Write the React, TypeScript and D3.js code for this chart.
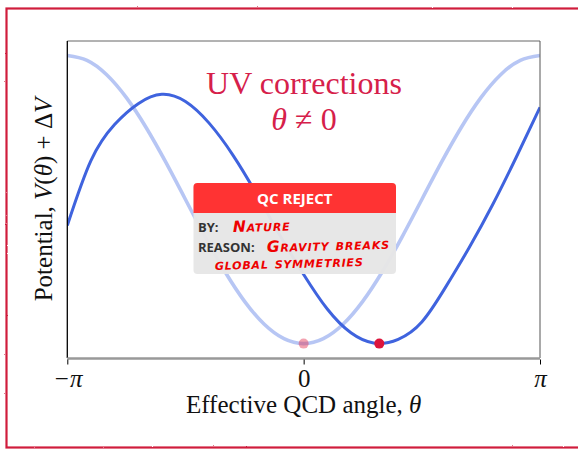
import { useEffect, useRef } from 'react'
import * as d3 from 'd3'

// theta given in units of pi
const lightTheta = [-1, -11 / 12, -10 / 12, -9 / 12, -8 / 12, -7 / 12, -6 / 12, -5 / 12, -4 / 12, -3 / 12, -2 / 12, -1 / 12, 0,
  1 / 12, 2 / 12, 3 / 12, 4 / 12, 5 / 12, 6 / 12, 7 / 12, 8 / 12, 9 / 12, 10 / 12, 11 / 12, 1]
const lightValues = [2.0, 1.966, 1.866, 1.707, 1.5, 1.259, 1.0, 0.741, 0.5, 0.293, 0.134, 0.034, 0,
  0.034, 0.134, 0.293, 0.5, 0.741, 1.0, 1.259, 1.5, 1.707, 1.866, 1.966, 2.0]

const darkTheta = [-1.0, -0.9, -0.8, -0.7, -0.6, -0.5, -0.4, -0.3, -0.2, -0.1, 0.0,
  0.1, 0.2, 0.3, 0.4, 0.5, 0.6, 0.7, 0.8, 0.9, 1.0]
const darkValues = [0.82, 1.27, 1.52, 1.665, 1.73, 1.68, 1.53, 1.31, 1.04, 0.75, 0.48,
  0.24, 0.075, 0.003, 0.03, 0.15, 0.39, 0.665, 0.965, 1.295, 1.64]

const oldMin = { theta: 0, value: 0 }
const newMin = { theta: 0.32, value: 0 }

const tickValues = [-1, 0, 1]
const tickLabels = ['−π', '0', 'π']

export default function App() {
  const svgRef = useRef<SVGSVGElement>(null)

  useEffect(() => {
    document.body.style.margin = '0'
    if (!svgRef.current) return
    const svg = d3.select(svgRef.current)
    svg.selectAll('*').remove()

    const left = 67.3
    const right = 540
    const top = 41
    const bottom = 358

    const x = d3.scaleLinear().domain([-Math.PI, Math.PI]).range([left, right])
    const y = d3.scaleLinear().domain([-0.1, 2.1]).range([bottom, top])
    const serif = '"Liberation Serif", "DejaVu Serif", serif'

    const defs = svg.append('defs')
    const rough = defs.append('filter').attr('id', 'rough')
      .attr('x', '-5%').attr('y', '-5%').attr('width', '110%').attr('height', '110%')
    rough.append('feTurbulence').attr('type', 'fractalNoise').attr('baseFrequency', 0.9)
      .attr('numOctaves', 2).attr('result', 'noise')
    rough.append('feDisplacementMap').attr('in', 'SourceGraphic').attr('in2', 'noise').attr('scale', 1.6)
    defs.append('clipPath').attr('id', 'plotclip').append('rect')
      .attr('x', left).attr('y', top).attr('width', right - left).attr('height', bottom - top)

    // rough red frame
    svg.append('rect')
      .attr('x', 6.5).attr('y', 8.5).attr('width', 600).attr('height', 439)
      .attr('fill', 'none').attr('stroke', '#d01c3c').attr('stroke-width', 2.2)
      .attr('filter', 'url(#rough)')

    const line = d3.line<[number, number]>()
      .x((d) => x(d[0] * Math.PI))
      .y((d) => y(d[1]))
      .curve(d3.curveNatural)

    const plot = svg.append('g').attr('clip-path', 'url(#plotclip)')
    plot.append('path')
      .datum(lightTheta.map((t, i) => [t, lightValues[i]] as [number, number]))
      .attr('d', line).attr('fill', 'none')
      .attr('stroke', '#4169e1').attr('stroke-opacity', 0.38).attr('stroke-width', 3.6)
    plot.append('path')
      .datum(darkTheta.map((t, i) => [t, darkValues[i]] as [number, number]))
      .attr('d', line).attr('fill', 'none')
      .attr('stroke', '#3f63de').attr('stroke-width', 3)

    svg.append('circle').attr('cx', x(oldMin.theta * Math.PI)).attr('cy', y(oldMin.value)).attr('r', 5)
      .attr('fill', '#e5314f').attr('fill-opacity', 0.45)
    svg.append('circle').attr('cx', x(newMin.theta * Math.PI)).attr('cy', y(newMin.value)).attr('r', 5)
      .attr('fill', '#dc143c')

    // spines
    svg.append('line').attr('x1', left).attr('x2', right).attr('y1', top).attr('y2', top)
      .attr('stroke', '#666').attr('stroke-width', 1)
    svg.append('line').attr('x1', right).attr('x2', right).attr('y1', top).attr('y2', bottom)
      .attr('stroke', '#555').attr('stroke-width', 1)
    svg.append('line').attr('x1', left).attr('x2', left).attr('y1', top).attr('y2', bottom)
      .attr('stroke', '#000').attr('stroke-width', 1.3)
    svg.append('line').attr('x1', left).attr('x2', right).attr('y1', bottom + 0.5).attr('y2', bottom + 0.5)
      .attr('stroke', '#999').attr('stroke-width', 2.5)

    const xAxis = svg.append('g').attr('transform', `translate(0,${bottom + 1.5})`)
      .call(d3.axisBottom(x).tickValues(tickValues.map((t) => t * Math.PI))
        .tickFormat((_, i) => tickLabels[i]).tickSize(5).tickPadding(5))
    xAxis.select('.domain').remove()
    xAxis.selectAll('line').attr('stroke', '#000')
    xAxis.selectAll('text').attr('font-family', serif).attr('font-size', 25)
      .attr('fill', '#111').attr('font-style', (_, i) => (i === 1 ? 'normal' : 'italic'))

    svg.append('text').attr('x', (left + right) / 2).attr('y', 413)
      .attr('text-anchor', 'middle').attr('font-family', serif).attr('font-size', 25).attr('fill', '#111')
      .html('Effective QCD angle, <tspan font-style="italic">θ</tspan>')

    svg.append('text').attr('transform', `translate(52,${(top + bottom) / 2}) rotate(-90)`)
      .attr('text-anchor', 'middle').attr('font-family', serif).attr('font-size', 25).attr('fill', '#111')
      .html('Potential, <tspan font-style="italic">V</tspan>(<tspan font-style="italic">θ</tspan>) + Δ<tspan font-style="italic">V</tspan>')

    svg.append('text').attr('x', 304).attr('y', 94)
      .attr('text-anchor', 'middle').attr('font-family', serif).attr('font-size', 32).attr('fill', '#d6204a')
      .text('UV corrections')
    svg.append('text').attr('x', 304).attr('y', 130)
      .attr('text-anchor', 'middle').attr('font-family', serif).attr('font-size', 32).attr('fill', '#d6204a')
      .html('<tspan font-style="italic">θ</tspan> ≠ 0')

    // QC reject stamp
    const bx = 193.5
    const by = 183
    const bw = 202.5
    const bh = 91
    const hh = 30
    const box = svg.append('g')
    box.append('rect').attr('x', bx).attr('y', by).attr('width', bw).attr('height', bh).attr('rx', 4)
      .attr('fill', '#e6e6e6').attr('fill-opacity', 0.97)
    box.append('path')
      .attr('d', `M${bx},${by + hh} V${by + 4} Q${bx},${by} ${bx + 4},${by} H${bx + bw - 4} Q${bx + bw},${by} ${bx + bw},${by + 4} V${by + hh} Z`)
      .attr('fill', '#ff3333')
    const sans = '"Open Sans", "Noto Sans", sans-serif'
    box.append('text').attr('x', bx + bw / 2).attr('y', by + 20.5).attr('text-anchor', 'middle')
      .attr('font-family', sans).attr('font-weight', 700).attr('font-size', 15).attr('fill', '#fff')
      .text('QC REJECT')
    box.append('text').attr('x', 198).attr('y', 232).attr('font-family', sans).attr('font-weight', 700)
      .attr('font-size', 13).attr('fill', '#333').text('BY:')
    box.append('text').attr('x', 198).attr('y', 252).attr('font-family', sans).attr('font-weight', 700)
      .attr('font-size', 13).attr('fill', '#333').text('REASON:')
    const hand = (tx: number, ty: number, s: string) =>
      box.append('text').attr('x', tx).attr('y', ty).attr('font-family', '"DejaVu Sans", sans-serif')
        .attr('font-style', 'italic').attr('font-weight', 700).attr('font-variant', 'small-caps')
        .attr('font-size', 15.5).attr('letter-spacing', 0.8).attr('fill', '#ee0000')
        .attr('transform', `rotate(-1.5,${tx},${ty})`)
        .text(s)
    hand(233, 232, 'Nature')
    hand(267, 252, 'Gravity breaks')
    hand(215, 270, 'global symmetries')
  }, [])

  return <svg ref={svgRef} width={578} height={449} viewBox="0 0 578 449" style={{ display: 'block' }} />
}
